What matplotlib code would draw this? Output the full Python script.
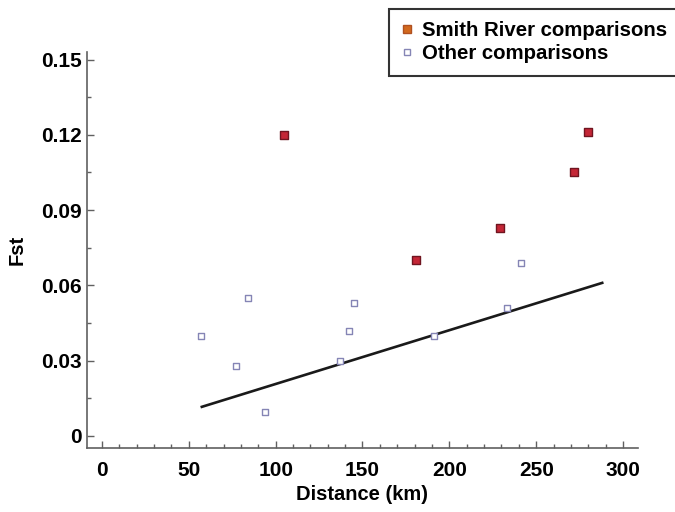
import matplotlib
matplotlib.use('Agg')
import matplotlib.pyplot as plt
from matplotlib.lines import Line2D
from matplotlib.ticker import MultipleLocator

plt.rcParams['font.family'] = ['Liberation Sans', 'DejaVu Sans']
plt.rcParams['font.weight'] = 'bold'

# Smith River comparisons (distance km, Fst)
smith_dist = [105, 181, 229, 272, 280]
smith_fst = [0.120, 0.070, 0.083, 0.105, 0.121]

# other comparisons
other_dist = [57, 77, 84, 94, 137, 142, 145, 191, 233, 241]
other_fst = [0.040, 0.028, 0.055, 0.0095, 0.030, 0.042, 0.053, 0.040, 0.051, 0.069]

# regression line end points
fit_dist = [57.5, 288]
fit_fst = [0.0116, 0.061]

fig = plt.figure(figsize=(6.75, 5.12), dpi=100)
ax = fig.add_axes([87/675, 64/512, (638-87)/675, (448-52)/512])

ax.plot(fit_dist, fit_fst, color='#1a1a1a', lw=1.9, zorder=2)
ax.scatter(other_dist, other_fst, marker='s', s=22, facecolor='white',
           edgecolor='#8585b5', linewidth=1.0, zorder=3)
ax.scatter(smith_dist, smith_fst, marker='s', s=30, facecolor='#c42636',
           edgecolor='#701520', linewidth=1.0, zorder=3)

ax.set_xlim(-8.6, 308.6)
ax.set_ylim(-0.0048, 0.153)
ax.xaxis.set_major_locator(MultipleLocator(50))
ax.xaxis.set_minor_locator(MultipleLocator(10))
ax.set_yticks([0, 0.03, 0.06, 0.09, 0.12, 0.15])
ax.set_yticklabels(['0', '0.03', '0.06', '0.09', '0.12', '0.15'])
ax.yaxis.set_minor_locator(MultipleLocator(0.015))

for s in ['top', 'right']:
    ax.spines[s].set_visible(False)
for s in ['left', 'bottom']:
    ax.spines[s].set_color('#606060')
    ax.spines[s].set_linewidth(1.2)

ax.tick_params(which='major', direction='in', length=5, width=1, color='#606060',
               labelsize=15)
ax.tick_params(which='minor', direction='in', length=3, width=1, color='#606060')
ax.tick_params(axis='x', which='major', pad=9)
ax.tick_params(axis='y', which='major', pad=4)

ax.set_xlabel('Distance (km)', fontsize=14.5, fontweight='bold', labelpad=4)
ax.set_ylabel('Fst', fontsize=14.5, fontweight='bold', labelpad=10)

handles = [
    Line2D([], [], marker='s', ls='none', markersize=6, markerfacecolor='#d2691e',
           markeredgecolor='#b05020', label='Smith River comparisons'),
    Line2D([], [], marker='s', ls='none', markersize=5, markerfacecolor='white',
           markeredgecolor='#8585b5', label='Other comparisons'),
]
leg = fig.legend(handles=handles, loc='upper left', bbox_to_anchor=(389/675, 1 - 9/512),
                 frameon=True, fancybox=False, handlelength=0.6,
                 handletextpad=0.4, borderpad=0.6, labelspacing=0.2,
                 borderaxespad=0, prop={'weight': 'bold', 'size': 14.7})
leg.get_frame().set_edgecolor('black')
leg.get_frame().set_linewidth(1.5)

fig.savefig('out.png', dpi=100)
